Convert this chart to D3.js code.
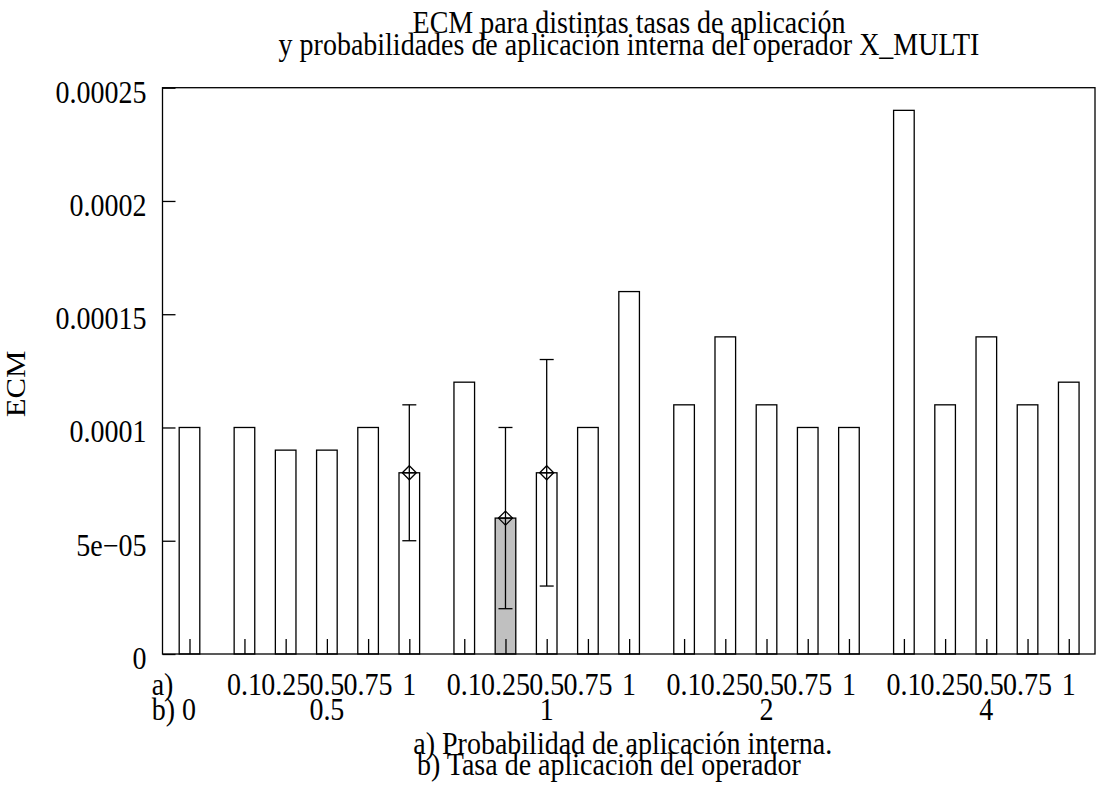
<!DOCTYPE html>
<html>
<head>
<meta charset="utf-8">
<script src="https://cdn.jsdelivr.net/npm/d3@7"></script>
<style>
  html, body { margin: 0; padding: 0; background: #fff; }
  svg text { font-family: "Liberation Serif", "DejaVu Serif", serif; fill: #000; }
</style>
</head>
<body>
<svg id="chart" width="1104" height="798"></svg>
<script>
// Tasa de aplicación del operador (grupos) y probabilidad interna (barras)
const tasas = ["0", "0.5", "1", "2", "4"];
const probabilidades = ["0.1", "0.25", "0.5", "0.75", "1"];

// ECM por grupo de tasa; la tasa 0 sólo tiene una barra
const ecmTasa0   = [0.0001];
const ecmTasa05  = [0.0001, 0.00009, 0.00009, 0.0001, 0.00008];
const ecmTasa1   = [0.00012, 0.00006, 0.00008, 0.0001, 0.00016];
const ecmTasa2   = [0.00011, 0.00014, 0.00011, 0.0001, 0.0001];
const ecmTasa4   = [0.00024, 0.00011, 0.00014, 0.00011, 0.00012];

// Intervalos de error (mín, máx) para las barras que los tienen
const errorTasa05P1   = [0.00005, 0.00011];
const errorTasa1P025  = [0.00002, 0.0001];
const errorTasa1P05   = [0.00003, 0.00013];

// Etiquetas del eje Y
const yTicks = [0, 0.00005, 0.0001, 0.00015, 0.0002, 0.00025];
const yTickLabels = ["0", "5e\u221205", "0.0001", "0.00015", "0.0002", "0.00025"];

const titulo = ["ECM para distintas tasas de aplicación",
                "y probabilidades de aplicación interna del operador X_MULTI"];
const etiquetaX = ["a) Probabilidad de aplicación interna.",
                   "b) Tasa de aplicación del operador"];
const etiquetaY = "ECM";

// Construye la lista de barras
const grupos = [ecmTasa0, ecmTasa05, ecmTasa1, ecmTasa2, ecmTasa4];
const barras = [];
let idx = 0;
grupos.forEach((vals, g) => {
  vals.forEach((v, i) => {
    const b = { grupo: g, tasa: tasas[g], prob: g === 0 ? null : probabilidades[i],
                valor: v, pos: idx + g / 3, error: null, resaltada: false };
    if (g === 1 && i === 4) b.error = errorTasa05P1;
    if (g === 2 && i === 1) { b.error = errorTasa1P025; b.resaltada = true; }
    if (g === 2 && i === 2) b.error = errorTasa1P05;
    barras.push(b);
    idx++;
  });
});

const svg = d3.select("#chart");
const FS = 28;      // tamaño de letra
const SY = 1.1;     // estiramiento vertical del texto
const mIzq = 162.5, mDer = 1095, mSup = 87.7, mInf = 654;

const x = d3.scaleLinear().domain([-0.655, 21.97]).range([mIzq, mDer]);
const y = d3.scaleLinear().domain([0, 0.00025]).range([mInf, mSup]);
const anchoBarra = x(0.5) - x(0);

// Texto anclado en (px, py) con el estiramiento vertical aplicado
function texto(px, py, extra = "") {
  return svg.append("text")
    .attr("font-size", FS)
    .attr("transform", `translate(${px},${py}) ${extra} scale(1,${SY})`);
}

// Barras
svg.append("g").selectAll("rect").data(barras).join("rect")
  .attr("x", d => x(d.pos) - anchoBarra / 2)
  .attr("y", d => y(d.valor))
  .attr("width", anchoBarra)
  .attr("height", d => y(0) - y(d.valor))
  .attr("fill", d => d.resaltada ? "#c0c0c0" : "#fff")
  .attr("stroke", "#000")
  .attr("stroke-width", 1.3);

// Eje Y (marcas hacia dentro)
const ejeY = svg.append("g")
  .attr("transform", `translate(${mIzq},0)`)
  .call(d3.axisLeft(y).tickValues(yTicks).tickSize(-13).tickPadding(16)
        .tickFormat((d, i) => yTickLabels[i]));
ejeY.select(".domain").remove();
ejeY.selectAll(".tick line").attr("stroke", "#000").attr("stroke-width", 1.3);
ejeY.selectAll(".tick text").attr("font-size", FS).attr("dy", 13)
  .attr("transform", `scale(1,${SY})`)
  .attr("font-family", "Liberation Serif");

// Eje X: una marca por barra
const ejeX = svg.append("g")
  .attr("transform", `translate(0,${mInf})`)
  .call(d3.axisBottom(x).tickValues(barras.map(d => d.pos)).tickSize(-15).tickFormat(""));
ejeX.select(".domain").remove();
ejeX.selectAll(".tick line").attr("stroke", "#000").attr("stroke-width", 1.3);

// Marco
svg.append("rect")
  .attr("x", mIzq).attr("y", mSup)
  .attr("width", mDer - mIzq).attr("height", mInf - mSup)
  .attr("fill", "none").attr("stroke", "#000").attr("stroke-width", 1.3);

// Barras de error con marcador en diamante
const conError = barras.filter(d => d.error);
const gErr = svg.append("g").attr("stroke", "#000").attr("stroke-width", 1.3).attr("fill", "none");
const cap = 7, dm = 7;
conError.forEach(d => {
  const cx = x(d.pos);
  gErr.append("line").attr("x1", cx).attr("x2", cx)
    .attr("y1", y(d.error[0])).attr("y2", y(d.error[1]));
  gErr.append("line").attr("x1", cx - cap).attr("x2", cx + cap)
    .attr("y1", y(d.error[0])).attr("y2", y(d.error[0]));
  gErr.append("line").attr("x1", cx - cap).attr("x2", cx + cap)
    .attr("y1", y(d.error[1])).attr("y2", y(d.error[1]));
  const cy = y(d.valor);
  gErr.append("path")
    .attr("d", `M${cx},${cy - dm}L${cx + dm},${cy}L${cx},${cy + dm}L${cx - dm},${cy}Z`);
  gErr.append("line").attr("x1", cx - dm).attr("x2", cx + dm)
    .attr("y1", cy).attr("y2", cy);
});

// Etiquetas bajo el eje: fila a) probabilidad (695), fila b) tasa (720)
const filaA = 695, filaB = 720;
const saltoFilas = (filaB - filaA) / SY;
const primer = texto(151.7, filaA);
primer.append("tspan").attr("x", 0).attr("y", 0).text("a)");
primer.append("tspan").attr("x", 0).attr("y", saltoFilas).text("b) " + tasas[0]);

tasas.slice(1).forEach((t, k) => {
  const bs = barras.filter(d => d.grupo === k + 1);
  const t0 = texto(0, filaA).attr("text-anchor", "middle");
  bs.forEach(d => t0.append("tspan").attr("x", x(d.pos)).attr("y", 0).text(d.prob));
  t0.append("tspan").attr("x", x(bs[2].pos)).attr("y", saltoFilas).text(t);
});

// Título
const tTitulo = texto(629, 33).attr("text-anchor", "middle");
titulo.forEach((linea, i) =>
  tTitulo.append("tspan").attr("x", 0).attr("y", i * 22 / SY).text(linea));

// Etiqueta del eje X
const tEjeX = texto(413.3, 754);
tEjeX.append("tspan").attr("x", 0).attr("y", 0).text(etiquetaX[0]);
tEjeX.append("tspan").attr("x", 3.7).attr("y", 21 / SY).text(etiquetaX[1]);

// Etiqueta del eje Y
svg.append("text").attr("font-size", FS).attr("text-anchor", "middle")
  .attr("transform", `translate(25,384) rotate(-90) scale(${SY},1)`)
  .text(etiquetaY);
</script>
</body>
</html>
